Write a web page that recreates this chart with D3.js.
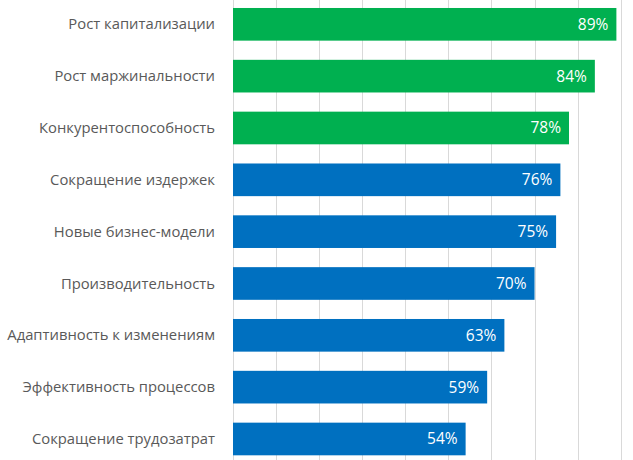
<!DOCTYPE html>
<html><head><meta charset="utf-8">
<script src="https://cdn.jsdelivr.net/npm/d3@7"></script>
<style>body{margin:0;background:#fff}svg{display:block}</style>
</head><body>
<svg id="c" width="633" height="460"></svg>
<script>
const categories = ["Рост капитализации","Рост маржинальности","Конкурентоспособность","Сокращение издержек","Новые бизнес-модели","Производительность","Адаптивность к изменениям","Эффективность процессов","Сокращение трудозатрат"];
const values = [0.89,0.84,0.78,0.76,0.75,0.70,0.63,0.59,0.54];
const highlight = [true,true,true,false,false,false,false,false,false];
const gridTicks = [0,0.1,0.2,0.3,0.4,0.5,0.6,0.7,0.8,0.9];

const svg = d3.select("#c");
const x = d3.scaleLinear().domain([0,0.9]).range([233,620.7]);
const y = d3.scaleBand().domain(categories).range([-1.6,464.9]).paddingInner(0.37).paddingOuter(0.185);

svg.append("g").selectAll("line").data(gridTicks).join("line")
  .attr("x1",d=>Math.round(x(d))+0.5).attr("x2",d=>Math.round(x(d))+0.5)
  .attr("y1",0).attr("y2",460)
  .attr("stroke","#d9d9d9").attr("stroke-width",1);

svg.append("g").selectAll("rect").data(categories).join("rect")
  .attr("x",x(0)).attr("y",d=>y(d))
  .attr("width",(d,i)=>x(values[i])-x(0)).attr("height",y.bandwidth())
  .attr("fill",(d,i)=>highlight[i]?"#00B050":"#0070C0");

svg.append("g").selectAll("text").data(categories).join("text")
  .attr("x",(d,i)=>x(values[i])-8).attr("y",d=>y(d)+y.bandwidth()/2)
  .attr("dy","0.35em").attr("text-anchor","end")
  .attr("font-family","'Open Sans', sans-serif").attr("font-size",15.5)
  .attr("fill","#fff").text((d,i)=>Math.round(values[i]*100)+"%");

svg.append("g").selectAll("text").data(categories).join("text")
  .attr("x",215).attr("y",d=>y(d)+y.bandwidth()/2)
  .attr("dy","0.35em").attr("text-anchor","end")
  .attr("font-family","'Open Sans', sans-serif").attr("font-size",14.8)
  .attr("fill","#595959").text(d=>d);
</script>
</body></html>
